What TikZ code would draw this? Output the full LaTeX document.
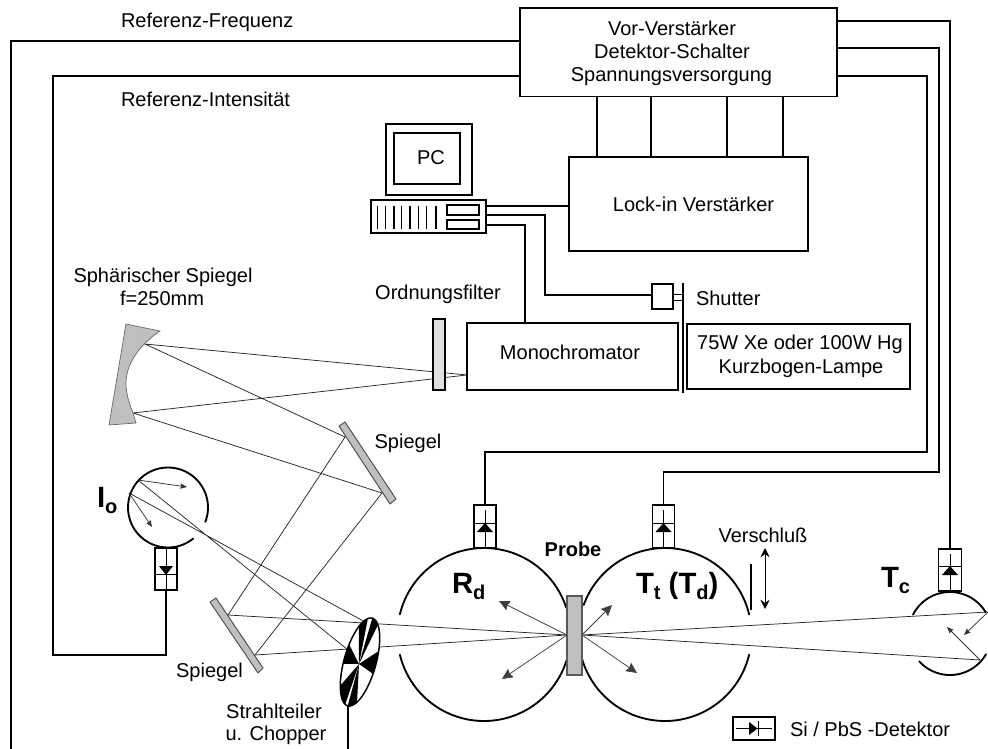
\documentclass[tikz,border=0pt]{standalone}
\usepackage{fontspec}
\setmainfont{Liberation Sans}
\usetikzlibrary{arrows.meta,calc}
\tikzset{
  bx/.style 2 args={draw=black,line width=1.1pt,minimum width=#1*0.75pt,minimum height=#2*0.75pt,inner sep=0pt,outer sep=0pt,align=center},
  lab/.style={inner sep=0pt,outer sep=0pt,anchor=base,font=\fontsize{15}{17}\selectfont},
  biglab/.style={inner sep=0pt,outer sep=0pt,anchor=base west,font=\fontsize{22}{24}\selectfont\bfseries},
  wire/.style={line width=1.2pt,line join=miter},
  thinwire/.style={line width=1pt},
  ray/.style={line width=0.55pt,draw=black!85},
  sphere/.style={line width=1.4pt,line cap=round},
  radarrow/.style={line width=0.55pt,draw=black!75,-{Stealth[length=8pt,width=7.5pt,inset=1pt]}},
  smallarrow/.style={line width=0.55pt,draw=black!80,-{Stealth[length=5pt,width=4pt,inset=0.8pt]}},
  mirror/.style={fill=black!25,draw=black!70,line width=0.7pt},
}
\newcommand{\sarc}[5]{\draw[sphere] plot[domain=#4:#5,samples=70] ({#1+#3*cos(\x)},{#2+#3*sin(\x)});}
\newcommand{\chopsec}[2]{\fill[black] (chopc) -- plot[domain=#1:#2,samples=12] ({360+45.5*cos(\x)*0.27+16*sin(\x)*0.963},{662-45.5*cos(\x)*0.963+16*sin(\x)*0.27}) -- cycle;}
\newcommand{\sub}[1]{\raisebox{-0.22em}{\fontsize{15}{16}\selectfont #1}}
\begin{document}
\begin{tikzpicture}[x=0.75pt,y=-0.75pt]
\useasboundingbox (0,0) rectangle (988,749);
\fill[white] (0,0) rectangle (988,749);

% ---- rays
\coordinate (sm1) at (145,344);
\coordinate (sm2) at (133,413);
\coordinate (slit) at (467,375);
\coordinate (m1a) at (345,437);
\coordinate (m1b) at (382,493);
\coordinate (m2a) at (228,615);
\coordinate (m2b) at (255,655);
\coordinate (samL) at (567,635);
\coordinate (samR) at (582,635);
\coordinate (tca) at (988,612);
\coordinate (tcb) at (980,660);
\coordinate (ioa) at (138,480);
\coordinate (iob) at (129,493);
\coordinate (cha) at (348,650);
\coordinate (chb) at (367,623);
\coordinate (chopc) at (359,664);

\draw[ray] (sm1) -- (slit) (sm2) -- (slit) (sm1) -- (m1a) (sm2) -- (m1b);
\draw[ray] (m1a) -- (m2a) (m1b) -- (m2b);
\draw[ray] (m2a) -- (samL) (m2b) -- (samL);
\draw[ray] (ioa) -- (cha) (iob) -- (chb);
\draw[ray] (samR) -- (tca) (samR) -- (tcb);

% ---- boxes
\node[bx={317}{88.7}] (topbox) at (678.5,52.3) {};
\node[lab] (t1) at (672,36) {Vor-Verstärker};
\node[lab] (t2) at (672,59) {Detektor-Schalter};
\node[lab] (t3) at (671.5,82) {Spannungsversorgung};
\node[bx={239}{94}] (lockin) at (688.5,204) {};
\node[lab] (t4) at (693.5,211) {Lock-in Verstärker};
\node[bx={211}{67}] (mono) at (572.5,356.5) {};
\node[lab] (t5) at (570,359) {Monochromator};
\node[bx={223}{65}] (lamp) at (798.5,356.5) {};
\node[lab] (t6) at (800,349) {75W Xe oder 100W Hg};
\node[lab] (t6b) at (801,373) {Kurzbogen-Lampe};
\node[bx={86}{71}] (monitor) at (429,159.5) {};
\node[bx={66}{51}] (screen) at (427,158.5) {};
\node[lab] (pc) at (431,164) {PC};
\node[bx={115}{33}] (base) at (428.5,216.5) {};
\foreach \xx in {377.3,385.7,394,401.7,410,418.3,426.7,436}
  \draw[line width=1pt] (\xx,206) -- (\xx,229);
\node[bx={32}{10}] (slot1) at (463,210) {};
\node[bx={32}{9}] (slot2) at (463,224.5) {};
\node[bx={21}{25}] (shutbox) at (662.5,296.5) {};
\coordinate (shuttop) at (683,283);
\coordinate (shutbot) at (683,393);
\draw[thinwire] (shuttop) -- (shutbot);

% ---- wires
\draw[wire] (topbox.west |- 0,41) -| (11,749);
\coordinate (iocorner) at (53,655);
\coordinate (rdcorner) at (927,452);
\coordinate (ttcorner) at (939,472);
\draw[thinwire] (base.east |- 0,206) -- (lockin.west |- 0,206);
\draw[thinwire] (base.east |- 0,215) -| (545,295) -- (shutbox.west |- 0,295);
\draw[thinwire] (base.east |- 0,225) -| (mono.north -| 525,0);
\draw[line width=0.7pt] (shutbox.east |- 0,294) -- (shuttop |- 0,294) (shutbox.east |- 0,300) -- (shuttop |- 0,300);
\foreach \xx in {597,651,727,783}
  \draw[thinwire] (topbox.south -| \xx,0) -- (lockin.north -| \xx,0);

% ---- detectors
\node[bx={22}{43}] (rddet) at (485,526.5) {};
\node[bx={22}{43}] (ttdet) at (663.5,526.5) {};
\node[bx={23}{42}] (tcdet) at (950,570) {};
\node[bx={22}{42}] (iodet) at (166,569) {};
\foreach \nn/\ya/\yb/\yc in {rddet/510/523/532,ttdet/510/523/532,tcdet/553/566/575}{
  \draw[line width=0.6pt] ($(\nn.north)+(0,5)$) -- (\nn.south);
  \draw[line width=0.6pt] (\nn.west |- 0,\yb) -- (\nn.east |- 0,\yb);
  \fill[black] ($(\nn.north |- 0,\yb)$) -- ($(\nn.north |- 0,\yc)+(-8,0)$) -- ($(\nn.north |- 0,\yc)+(8,0)$) -- cycle;
}
\draw[line width=0.6pt] (iodet.north) -- (iodet.south);
\draw[line width=0.6pt] (iodet.west |- 0,574) -- (iodet.east |- 0,574);
\fill[black] (iodet.north |- 0,575) -- ($(iodet.north |- 0,566)+(-7,0)$) -- ($(iodet.north |- 0,566)+(7,0)$) -- cycle;

\draw[wire] (topbox.west |- 0,76) -| (iocorner) -| (iodet.south);
\draw[wire] (topbox.east |- 0,21) -| (tcdet.north);
\draw[wire] (topbox.east |- 0,48) -| (ttcorner) -| (ttdet.north);
\draw[wire] (topbox.east |- 0,76) -| (rdcorner) -| (rddet.north);

% ---- spheres
\sarc{484}{634.5}{86.5}{193.5}{342}
\sarc{484}{634.5}{86.5}{15}{166.5}
\sarc{665}{634.5}{86.5}{200}{346.5}
\sarc{665}{634.5}{86.5}{13.5}{165}
\sarc{950}{633.5}{41.5}{207}{329}
\sarc{950}{633.5}{41.5}{30}{138}
\sarc{168}{507.5}{40}{51}{381}

% ---- sample
\node[bx={15}{79},fill=black!25,draw=black!65] (sample) at (574.5,635.5) {};
\foreach \tx/\ty in {499/601,502/679}
  \draw[radarrow] (samL) -- (\tx,\ty);
\foreach \tx/\ty in {612/605,637/673}
  \draw[radarrow] (samR) -- (\tx,\ty);
\draw[smallarrow] (tca) -- (964,635);
\draw[smallarrow] (tcb) -- (947,627);
\draw[smallarrow] (ioa) -- (187,487);
\draw[smallarrow] (iob) -- (152,527);

% ---- optics
\fill[black!25] (126,324) -- (160,331) .. controls (145,341) and (126,360) .. (126,383) .. controls (126,395) and (130,405) .. (133,413) -- (136,423) -- (109,425) -- cycle;
\draw[black!60,line width=0.5pt] (126,324) -- (160,331) .. controls (145,341) and (126,360) .. (126,383) .. controls (126,395) and (130,405) .. (133,413) -- (136,423) -- (109,425) -- cycle;
\draw[mirror] (339,426) -- (345,422) -- (396,499) -- (390,504) -- cycle;
\draw[mirror] (210,602) -- (216,598) -- (263,668) -- (258,673) -- cycle;
\node[bx={12}{71},fill=black!12,line width=0.9pt] (filter) at (439,354.5) {};

% ---- chopper
\fill[white] plot[domain=0:360,samples=80] ({360+45.5*cos(\x)*0.27+16*sin(\x)*0.963},{662-45.5*cos(\x)*0.963+16*sin(\x)*0.27}) -- cycle;
\chopsec{0}{27}
\chopsec{70}{100}
\chopsec{150}{180}
\chopsec{190}{232}
\chopsec{262}{288}
\chopsec{318}{345}
\draw[line width=1.1pt] plot[domain=0:360,samples=80] ({360+45.5*cos(\x)*0.27+16*sin(\x)*0.963},{662-45.5*cos(\x)*0.963+16*sin(\x)*0.27}) -- cycle;
\coordinate (chopfoot) at (348,706);
\coordinate (chopend) at (348,749);
\draw[wire] (chopfoot) -- (chopend);

% ---- shutter arrow
\coordinate (vbar1) at (751,564);
\coordinate (vbar2) at (751,610);
\draw[line width=0.9pt] (vbar1) -- (vbar2);
\coordinate (varr1) at (765,548);
\coordinate (varr2) at (765,609);
\draw[line width=0.6pt,{Stealth[length=7pt,width=7pt,inset=2.5pt]}-{Stealth[length=7pt,width=7pt,inset=2.5pt]}] (varr1) -- (varr2);

% ---- legend
\node[bx={42}{23}] (legend) at (754,728.5) {};
\draw[line width=0.6pt] (736,728.5) -- (772,728.5);
\fill[black] (749,722) -- (757.5,728.5) -- (749,735) -- cycle;
\draw[line width=0.6pt] (758,721) -- (758,736);

% ---- labels
\node[lab,anchor=base west] (a1) at (121,28) {Referenz-Frequenz};
\node[lab,anchor=base west] (a2) at (121,106) {Referenz-Intensität};
\node[lab] (a3) at (163,282) {Sphärischer Spiegel};
\node[lab] (a3b) at (162,305) {f=250mm};
\node[lab] (a4) at (438,299) {Ordnungsfilter};
\node[lab,anchor=base west] (a5) at (696,305) {Shutter};
\node[lab] (a6) at (408,448) {Spiegel};
\node[lab] (a7) at (209.5,677) {Spiegel};
\node[lab] (a8) at (274,718) {Strahlteiler};
\node[lab] (a8b) at (276,740) {u. Chopper};
\node[lab] (a9) at (763,542) {Verschluß};
\node[lab,anchor=base west] (a10) at (790,736) {Si / PbS -Detektor};
\node[lab,font=\fontsize{15}{17}\selectfont\bfseries] (a11) at (573,556) {Probe};
\node[biglab] (rd) at (452,593) {R\sub{d}};
\node[biglab] (tt) at (636,593) {T\sub{t} (T\sub{d})};
\node[biglab] (tc) at (881,587) {T\sub{c}};
\node[biglab] (io) at (97,507) {I\sub{o}};
\end{tikzpicture}
\end{document}
